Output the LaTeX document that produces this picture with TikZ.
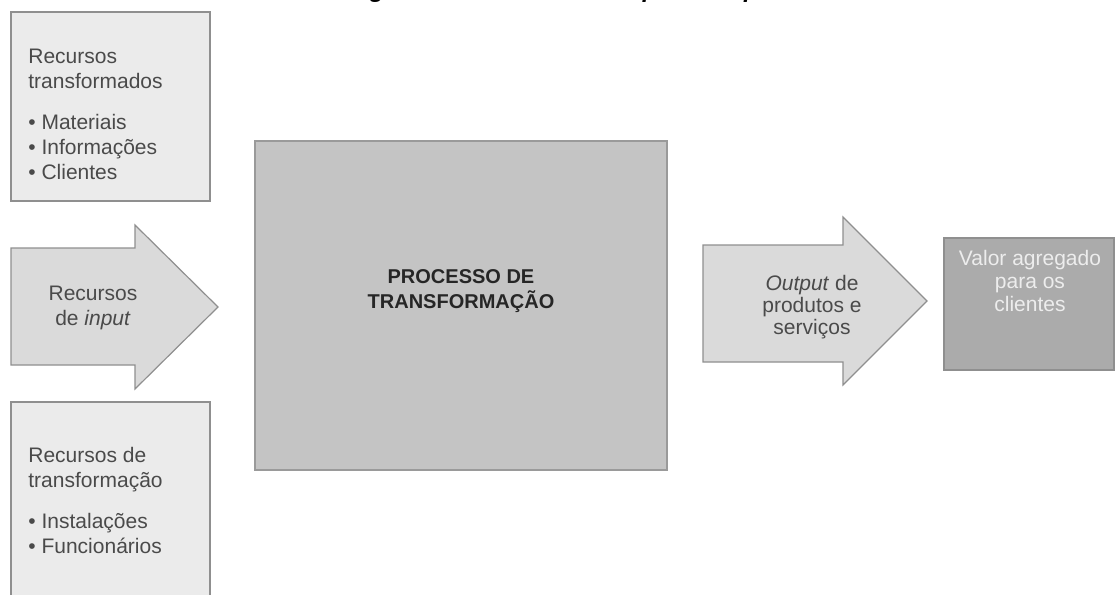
\documentclass[tikz,border=0pt]{standalone}
\usepackage{fontspec}
\setmainfont{Liberation Sans}
\usetikzlibrary{positioning}
\definecolor{CaixaClara}{HTML}{EBEBEB}
\definecolor{SetaCinza}{HTML}{DADADA}
\definecolor{ProcessoCinza}{HTML}{C4C4C4}
\definecolor{ValorCinza}{HTML}{ABABAB}
\definecolor{Borda}{HTML}{8F8F8F}
\definecolor{TextoCinza}{HTML}{4A4A4A}
\definecolor{TextoClaro}{HTML}{EDEDED}

\begin{document}
\begin{tikzpicture}[x=0.5pt, y=-0.5pt,
    caixa/.style={draw=Borda, fill=CaixaClara, line width=0.6pt},
    seta/.style={draw=Borda, fill=SetaCinza, line width=0.6pt, line join=miter},
    texto/.style={inner sep=0pt, text=TextoCinza, font=\fontsize{10.5}{12.5}\selectfont}]
\useasboundingbox (0,0) rectangle (1115,595);

% titulo (cortado no topo)
\node[anchor=base, inner sep=0pt, font=\bfseries\itshape\fontsize{12}{14}\selectfont] (titulo) at (565,-3)
    {Figura 1: Processos de input e output};

% recursos transformados
\draw[caixa] (11,12) rectangle (210,201);
\node[texto, anchor=north west, align=left] (transformados) at (28,49)
    {Recursos\\transformados\\[8pt]• Materiais\\• Informações\\• Clientes};

% seta de input
\draw[seta] (11,248) -- (135,248) -- (135,225) -- (218,307) -- (135,389) -- (135,365) -- (11,365) -- cycle;
\node[texto, align=center] (input) at (93,308) {Recursos\\de \textit{input}};

% recursos de transformacao
\draw[caixa] (11,402) rectangle (210,610);
\node[texto, anchor=north west, align=left] (transformacao) at (28,447)
    {Recursos de\\transformação\\[8pt]• Instalações\\• Funcionários};

% processo
\draw[draw=Borda!90, fill=ProcessoCinza, line width=0.6pt] (255,141) rectangle (667,470);
\node[texto, text=black!85, align=center, font=\bfseries\fontsize{10}{12.5}\selectfont] (processo) at (461,291)
    {PROCESSO DE\\TRANSFORMAÇÃO};

% seta de output
\draw[seta] (703,245) -- (843,245) -- (843,217) -- (927,301) -- (843,385) -- (843,362) -- (703,362) -- cycle;
\node[texto, align=center, font=\fontsize{10.5}{11}\selectfont] (output) at (812,307)
    {\textit{Output} de\\produtos e\\serviços};

% valor agregado
\draw[draw=Borda, fill=ValorCinza, line width=0.6pt] (944,238) rectangle (1114,370);
\node[texto, text=TextoClaro, align=center, font=\fontsize{10.5}{11.5}\selectfont] (valor) at (1030,281)
    {Valor agregado\\para os\\clientes};
\end{tikzpicture}
\end{document}
